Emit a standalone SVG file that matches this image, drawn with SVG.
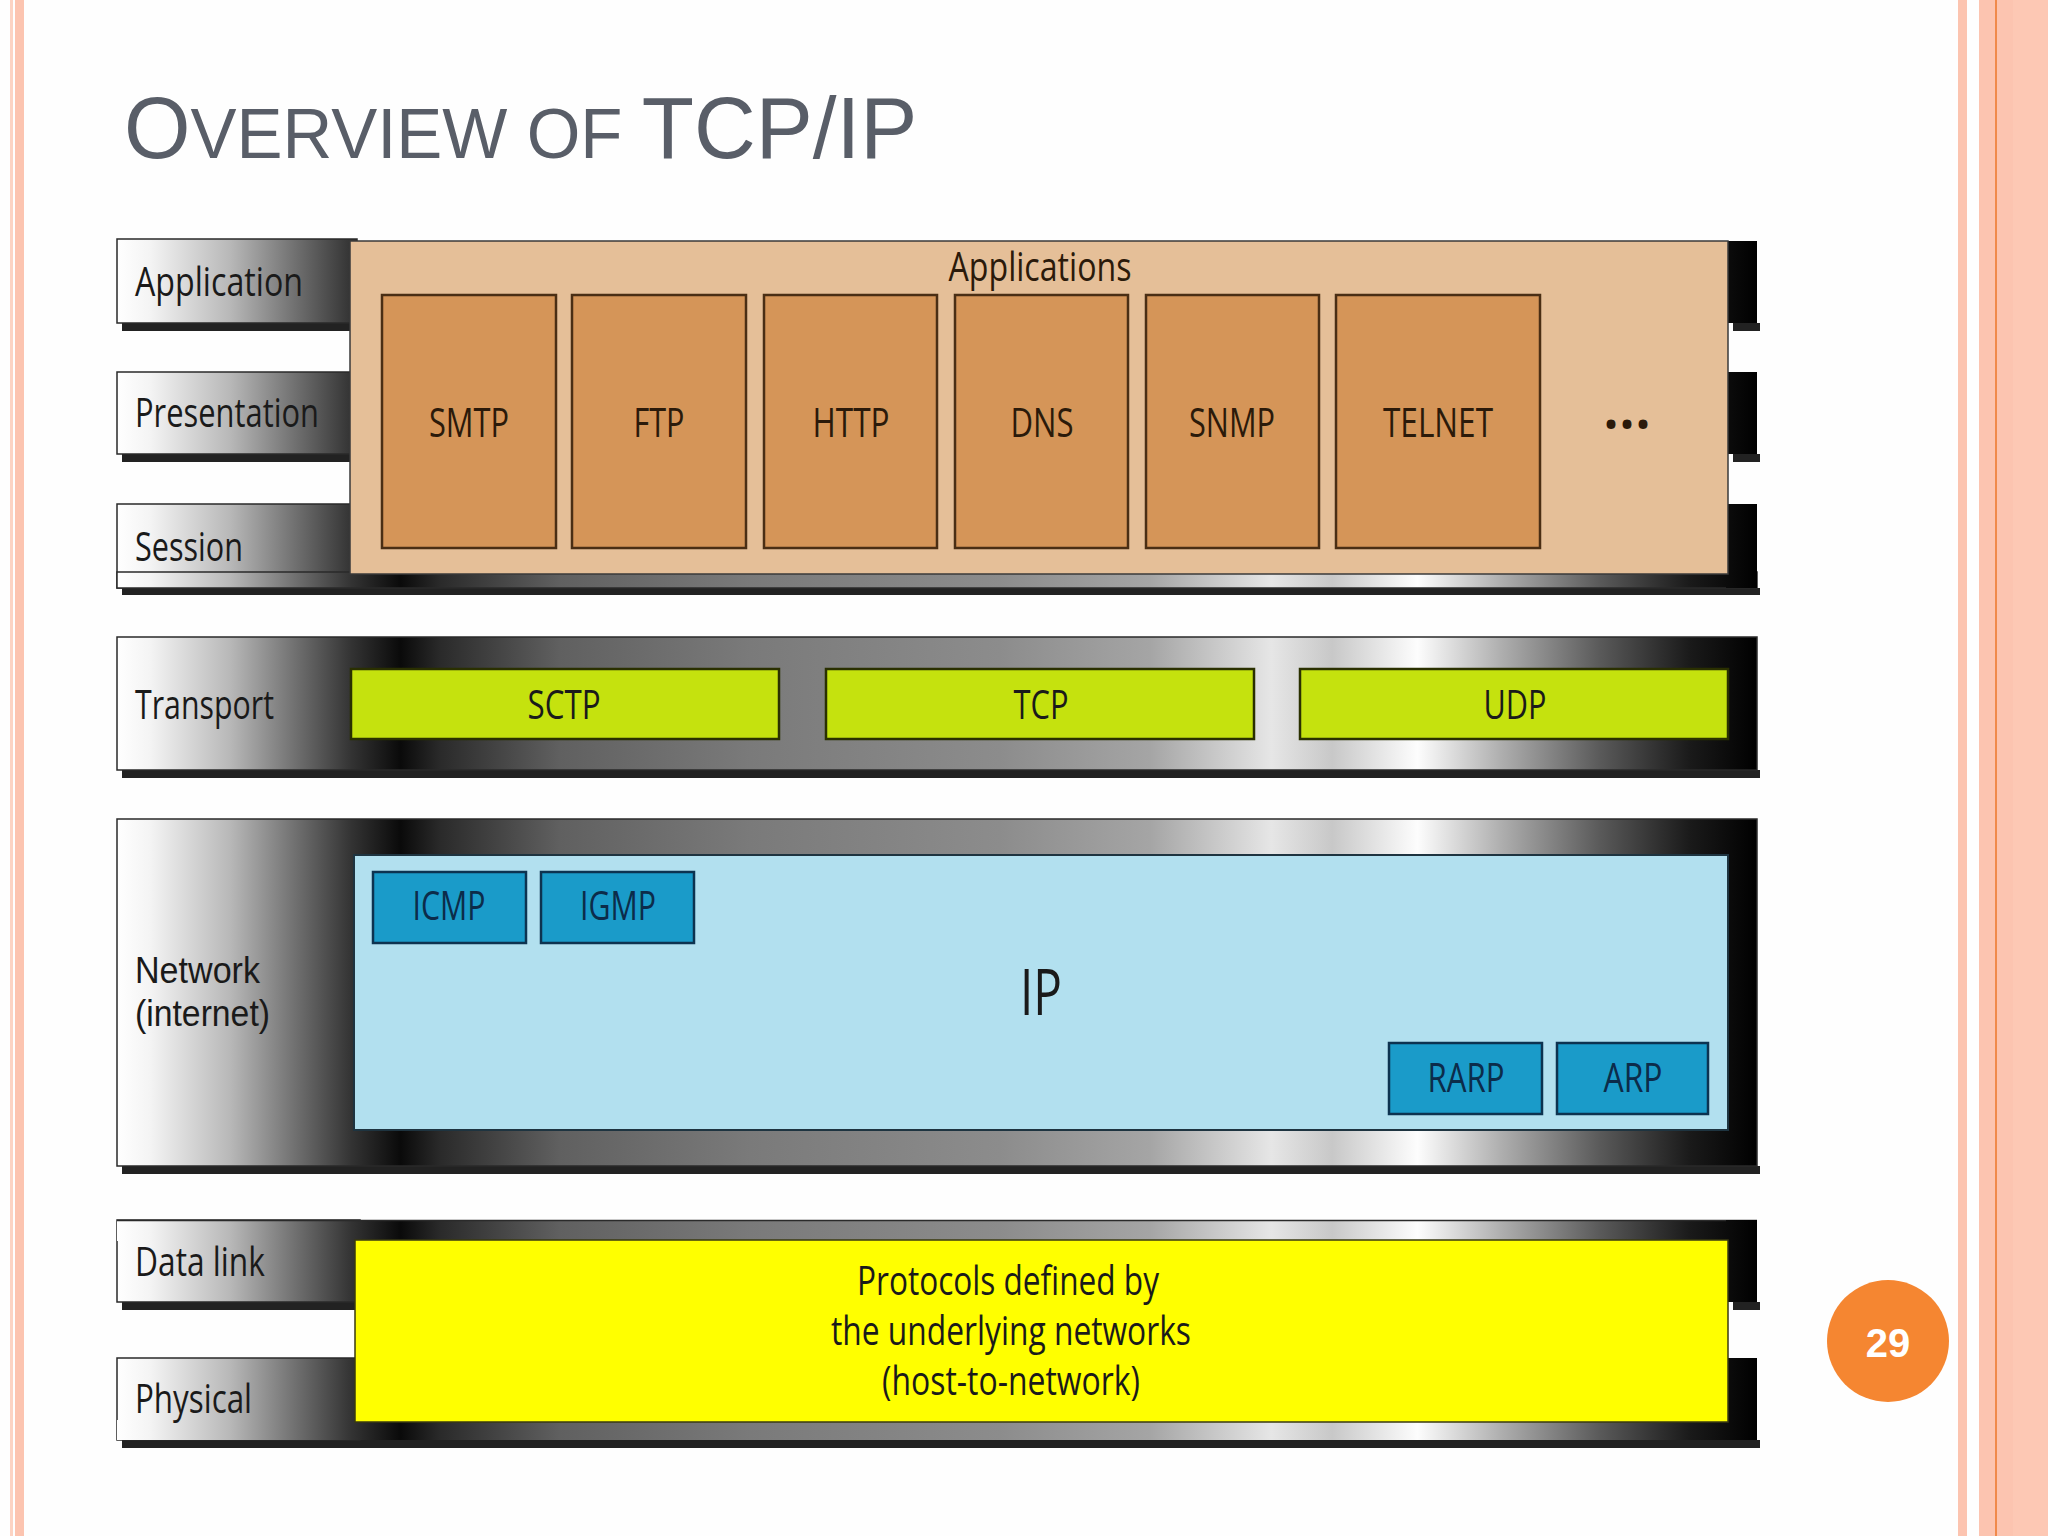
<svg xmlns="http://www.w3.org/2000/svg" width="2048" height="1536" viewBox="0 0 2048 1536">
<defs>
  <linearGradient id="frame" gradientUnits="userSpaceOnUse" x1="117" y1="0" x2="1757" y2="0">
    <stop offset="0" stop-color="#ffffff"/>
    <stop offset="0.02" stop-color="#f4f4f4"/>
    <stop offset="0.069" stop-color="#b8b8b8"/>
    <stop offset="0.112" stop-color="#6a6a6a"/>
    <stop offset="0.143" stop-color="#333333"/>
    <stop offset="0.173" stop-color="#0a0a0a"/>
    <stop offset="0.197" stop-color="#2a2a2a"/>
    <stop offset="0.27" stop-color="#606060"/>
    <stop offset="0.386" stop-color="#7a7a7a"/>
    <stop offset="0.538" stop-color="#8c8c8c"/>
    <stop offset="0.63" stop-color="#a5a5a5"/>
    <stop offset="0.704" stop-color="#e6e6e6"/>
    <stop offset="0.741" stop-color="#c8c8c8"/>
    <stop offset="0.793" stop-color="#fdfdfd"/>
    <stop offset="0.843" stop-color="#b0b0b0"/>
    <stop offset="0.904" stop-color="#5a5a5a"/>
    <stop offset="0.959" stop-color="#1a1a1a"/>
    <stop offset="1" stop-color="#000000"/>
  </linearGradient>
</defs>
<style>
  .t { font-family: "Open Sans", "Noto Sans", "DejaVu Sans", sans-serif; font-size: 40px; fill: #1a1a1a; }
  .n { font-family: "Liberation Sans", Arial, sans-serif; font-size: 37px; fill: #1a1a1a; }
  .c { text-anchor: middle; }
  .fr { fill: url(#frame); stroke: #2a2a2a; stroke-width: 1.5; }
  .sh { fill: #222222; }
  .app { fill: #d59558; stroke: #4a2e14; stroke-width: 2.5; }
  .apt { fill: #2b1a0a; }
  .grn { fill: #c5e20e; stroke: #2a3000; stroke-width: 2.5; }
  .blu { fill: #1a9bc9; stroke: #0d3350; stroke-width: 2.5; }
  .blt { fill: #0c2c4a; }
</style>

<!-- page -->
<g id="page">
  <rect x="0" y="0" width="2048" height="1536" fill="#fefefe"/>
  <rect x="10" y="0" width="3" height="1536" fill="#fcd3c3"/>
  <rect x="15" y="0" width="9" height="1536" fill="#fcc4b0"/>
  <rect x="1958" y="0" width="9" height="1536" fill="#fcc4b0"/>
  <rect x="1979" y="0" width="69" height="1536" fill="#fcc4b0"/>
  <rect x="1995" y="0" width="2" height="1536" fill="#f08a4b"/>
  <rect x="2013" y="0" width="35" height="1536" fill="#fdc8b4"/>
</g>

<g id="title">
  <text transform="translate(124 158) scale(0.972 1)" x="0" y="0" font-family="'Liberation Sans', Arial, sans-serif" fill="#595e68"><tspan font-size="88">O</tspan><tspan font-size="71">VERVIEW OF </tspan><tspan font-size="88">TCP/IP</tspan></text>
</g>

<!-- Application / Presentation / Session -->
<g id="layer-application">
  <rect class="sh" x="122" y="323" width="233" height="8"/>
  <rect class="sh" x="122" y="454" width="233" height="8"/>
  <rect class="sh" x="122" y="588" width="1638" height="7"/>
  <rect class="sh" x="1733" y="323" width="27" height="8"/>
  <rect class="sh" x="1733" y="454" width="27" height="8"/>
  <rect class="fr" x="117" y="239" width="240" height="84"/>
  <rect class="fr" x="117" y="372" width="240" height="82"/>
  <rect class="fr" x="117" y="504" width="240" height="84"/>
  <rect class="fr" x="117" y="572" width="1640" height="16"/>
  <rect x="1726" y="241" width="31" height="82" fill="url(#frame)"/>
  <rect x="1726" y="372" width="31" height="82" fill="url(#frame)"/>
  <rect x="1726" y="504" width="31" height="84" fill="url(#frame)"/>
  <rect x="350" y="241" width="1378" height="333" fill="#e5bf98" stroke="#3a3a3a" stroke-width="1.5"/>
  <text class="t" x="135" y="296" textLength="168" lengthAdjust="spacingAndGlyphs">Application</text>
  <text class="t" x="135" y="427" textLength="184" lengthAdjust="spacingAndGlyphs">Presentation</text>
  <text class="t" x="135" y="561" textLength="108" lengthAdjust="spacingAndGlyphs">Session</text>
  <text class="t c apt" x="1040" y="281" textLength="183" lengthAdjust="spacingAndGlyphs">Applications</text>
  <text class="t c apt" x="1627" y="439" textLength="48" lengthAdjust="spacingAndGlyphs">•••</text>
</g>
<g id="smtp"><rect class="app" x="382" y="295" width="174" height="253"/><text class="t c apt" x="469" y="437" textLength="80" lengthAdjust="spacingAndGlyphs">SMTP</text></g>
<g id="ftp"><rect class="app" x="572" y="295" width="174" height="253"/><text class="t c apt" x="659" y="437" textLength="51" lengthAdjust="spacingAndGlyphs">FTP</text></g>
<g id="http"><rect class="app" x="764" y="295" width="173" height="253"/><text class="t c apt" x="851" y="437" textLength="77" lengthAdjust="spacingAndGlyphs">HTTP</text></g>
<g id="dns"><rect class="app" x="955" y="295" width="173" height="253"/><text class="t c apt" x="1042" y="437" textLength="63" lengthAdjust="spacingAndGlyphs">DNS</text></g>
<g id="snmp"><rect class="app" x="1146" y="295" width="173" height="253"/><text class="t c apt" x="1232" y="437" textLength="86" lengthAdjust="spacingAndGlyphs">SNMP</text></g>
<g id="telnet"><rect class="app" x="1336" y="295" width="204" height="253"/><text class="t c apt" x="1438" y="437" textLength="110" lengthAdjust="spacingAndGlyphs">TELNET</text></g>

<!-- Transport -->
<g id="layer-transport">
  <rect class="sh" x="122" y="770" width="1638" height="8"/>
  <rect class="fr" x="117" y="637" width="1640" height="133"/>
  <text class="t" x="135" y="719" textLength="139" lengthAdjust="spacingAndGlyphs">Transport</text>
</g>
<g id="sctp"><rect class="grn" x="351" y="669" width="428" height="70"/><text class="t c" x="564" y="719" textLength="73" lengthAdjust="spacingAndGlyphs">SCTP</text></g>
<g id="tcp"><rect class="grn" x="826" y="669" width="428" height="70"/><text class="t c" x="1041" y="719" textLength="55" lengthAdjust="spacingAndGlyphs">TCP</text></g>
<g id="udp"><rect class="grn" x="1300" y="669" width="428" height="70"/><text class="t c" x="1515" y="719" textLength="63" lengthAdjust="spacingAndGlyphs">UDP</text></g>

<!-- Network -->
<g id="layer-network">
  <rect class="sh" x="122" y="1166" width="1638" height="8"/>
  <rect class="fr" x="117" y="819" width="1640" height="347"/>
  <text class="n" x="135" y="983" textLength="125" lengthAdjust="spacingAndGlyphs">Network</text>
  <text class="n" x="135" y="1026" textLength="135" lengthAdjust="spacingAndGlyphs">(internet)</text>
</g>
<g id="ip">
  <rect x="354" y="855" width="1374" height="275" fill="#b2e0ef" stroke="#1e3440" stroke-width="2"/>
  <text class="t c" x="1041" y="1015" textLength="42" lengthAdjust="spacingAndGlyphs" style="font-size:64px">IP</text>
</g>
<g id="icmp"><rect class="blu" x="373" y="872" width="153" height="71"/><text class="t c blt" x="449" y="920" textLength="73" lengthAdjust="spacingAndGlyphs">ICMP</text></g>
<g id="igmp"><rect class="blu" x="541" y="872" width="153" height="71"/><text class="t c blt" x="618" y="920" textLength="76" lengthAdjust="spacingAndGlyphs">IGMP</text></g>
<g id="rarp"><rect class="blu" x="1389" y="1043" width="153" height="71"/><text class="t c blt" x="1466" y="1092" textLength="77" lengthAdjust="spacingAndGlyphs">RARP</text></g>
<g id="arp"><rect class="blu" x="1557" y="1043" width="151" height="71"/><text class="t c blt" x="1633" y="1092" textLength="59" lengthAdjust="spacingAndGlyphs">ARP</text></g>

<!-- Data link / Physical -->
<g id="layer-datalink">
  <rect class="sh" x="122" y="1302" width="238" height="8"/>
  <rect class="sh" x="122" y="1440" width="1638" height="8"/>
  <rect class="sh" x="1733" y="1302" width="27" height="8"/>
  <rect class="fr" x="117" y="1220" width="243" height="82"/>
  <rect class="fr" x="117" y="1358" width="243" height="82"/>
  <rect x="117" y="1220" width="1640" height="21" fill="url(#frame)"/>
  <rect x="117" y="1420" width="1640" height="20" fill="url(#frame)"/>
  <line x1="117" y1="1220.5" x2="1757" y2="1220.5" stroke="#2a2a2a" stroke-width="1.5"/>
  <rect x="1726" y="1220" width="31" height="82" fill="url(#frame)"/>
  <rect x="1726" y="1358" width="31" height="82" fill="url(#frame)"/>
  <text class="t" x="135" y="1276" textLength="130" lengthAdjust="spacingAndGlyphs">Data link</text>
  <text class="t" x="135" y="1413" textLength="117" lengthAdjust="spacingAndGlyphs">Physical</text>
</g>
<g id="host-to-network">
  <rect x="355" y="1240" width="1373" height="182" fill="#ffff00" stroke="#3a3a10" stroke-width="1.5"/>
  <text class="t c" x="1008" y="1295" textLength="302" lengthAdjust="spacingAndGlyphs">Protocols defined by</text>
  <text class="t c" x="1011" y="1345" textLength="360" lengthAdjust="spacingAndGlyphs">the underlying networks</text>
  <text class="t c" x="1011" y="1395" textLength="258" lengthAdjust="spacingAndGlyphs">(host-to-network)</text>
</g>

<g id="connectors"/>

<g id="page-number">
  <circle cx="1888" cy="1341" r="61" fill="#f58631"/>
  <text x="1888" y="1357" text-anchor="middle" font-family="'Liberation Sans', Arial, sans-serif" font-weight="bold" font-size="40" fill="#ffffff">29</text>
</g>
</svg>
